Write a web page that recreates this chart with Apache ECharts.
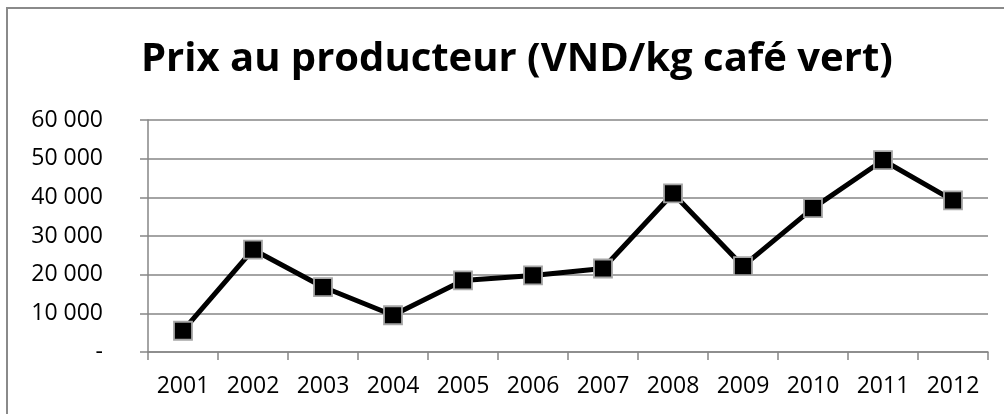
<!DOCTYPE html>
<html>
<head>
<meta charset="utf-8">
<script src="https://cdn.jsdelivr.net/npm/echarts@6/dist/echarts.min.js"></script>
<style>
  html, body { margin: 0; padding: 0; background: #ffffff; }
  #chart { width: 1004px; height: 414px; }
</style>
</head>
<body>
<div id="chart"></div>
<script>
const titleText = 'Prix au producteur (VND/kg café vert)';
const years = ['2001', '2002', '2003', '2004', '2005', '2006', '2007', '2008', '2009', '2010', '2011', '2012'];
const prices = [5500, 26500, 16800, 9500, 18500, 19800, 21600, 41000, 22200, 37200, 49600, 39200];
const yMin = 0;
const yMax = 60000;
const yStep = 10000;

function fmtY(v) {
  if (v === 0) return '-';
  return String(v).replace(/\B(?=(\d{3})+(?!\d))/g, ' ');
}

const chart = echarts.init(document.getElementById('chart'), null, { renderer: 'canvas' });
chart.setOption({
  backgroundColor: '#ffffff',
  animation: false,
  title: {
    text: titleText,
    left: 136,
    top: 35,
    textStyle: {
      fontFamily: 'Open Sans',
      fontWeight: 'bold',
      fontSize: 40,
      color: '#000000'
    }
  },
  graphic: [{
    type: 'polyline',
    shape: { points: [[7, 414], [7, 8], [1004, 8]] },
    style: { stroke: '#8a8a8a', lineWidth: 2, fill: null },
    silent: true
  }],
  grid: { left: 148, right: 16, top: 120, bottom: 62 },
  xAxis: {
    type: 'category',
    data: years,
    boundaryGap: true,
    axisLine: { show: true, lineStyle: { color: '#868686', width: 1.5 } },
    axisTick: { show: true, length: 8, alignWithLabel: false, lineStyle: { color: '#868686', width: 1.5 } },
    axisLabel: {
      margin: 23,
      fontFamily: 'Open Sans',
      fontSize: 23,
      color: '#000000'
    },
    splitLine: { show: false }
  },
  yAxis: {
    type: 'value',
    min: yMin,
    max: yMax,
    interval: yStep,
    axisLine: { show: true, lineStyle: { color: '#868686', width: 1.5 } },
    axisTick: { show: true, length: 8, lineStyle: { color: '#868686', width: 1.5 } },
    axisLabel: {
      margin: 45,
      fontFamily: 'Open Sans',
      fontSize: 23,
      color: '#000000',
      formatter: fmtY
    },
    splitLine: { show: true, lineStyle: { color: '#868686', width: 1.5 } }
  },
  series: [{
    type: 'line',
    data: prices,
    symbol: 'rect',
    symbolSize: 18,
    showAllSymbol: true,
    lineStyle: { color: '#000000', width: 5 },
    itemStyle: { color: '#000000', borderColor: '#a6a6a6', borderWidth: 1.8 },
    z: 3
  }]
});
</script>
</body>
</html>
